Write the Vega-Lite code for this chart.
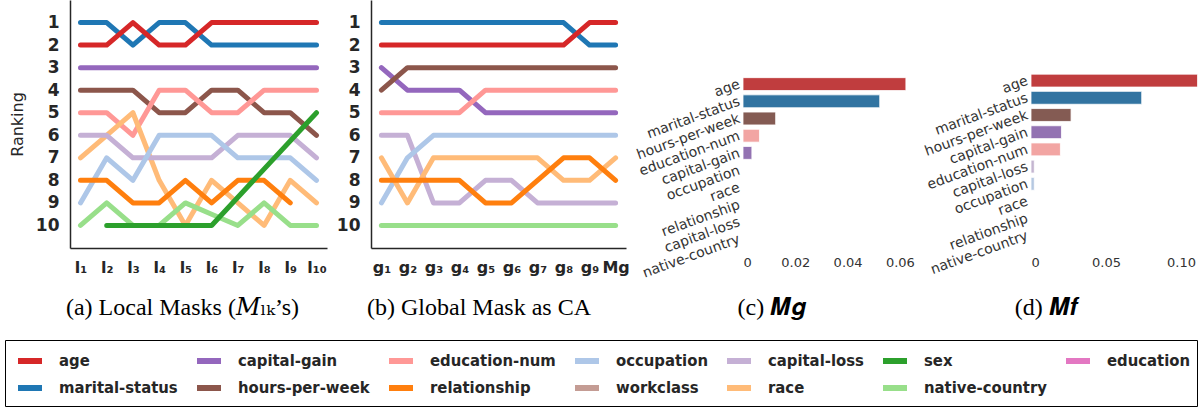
{
  "$schema": "https://vega.github.io/schema/vega-lite/v6.json",
  "padding": {"left": 4, "top": 0, "right": 0, "bottom": 0},
  "background": "white",
  "config": {
    "view": {"stroke": null},
    "axis": {"grid": false, "ticks": false, "domainColor": "#262626", "domainWidth": 1.5, "labelColor": "#262626"},
    "legend": {"orient": "none", "legendX": -65, "legendY": 340}
  },
  "datasets": {
    "local": [
      {"f": "marital-status", "s": "l₁", "r": 1}, {"f": "marital-status", "s": "l₂", "r": 1}, {"f": "marital-status", "s": "l₃", "r": 2}, {"f": "marital-status", "s": "l₄", "r": 1}, {"f": "marital-status", "s": "l₅", "r": 1}, {"f": "marital-status", "s": "l₆", "r": 2}, {"f": "marital-status", "s": "l₇", "r": 2}, {"f": "marital-status", "s": "l₈", "r": 2}, {"f": "marital-status", "s": "l₉", "r": 2}, {"f": "marital-status", "s": "l₁₀", "r": 2},
      {"f": "age", "s": "l₁", "r": 2}, {"f": "age", "s": "l₂", "r": 2}, {"f": "age", "s": "l₃", "r": 1}, {"f": "age", "s": "l₄", "r": 2}, {"f": "age", "s": "l₅", "r": 2}, {"f": "age", "s": "l₆", "r": 1}, {"f": "age", "s": "l₇", "r": 1}, {"f": "age", "s": "l₈", "r": 1}, {"f": "age", "s": "l₉", "r": 1}, {"f": "age", "s": "l₁₀", "r": 1},
      {"f": "capital-gain", "s": "l₁", "r": 3}, {"f": "capital-gain", "s": "l₂", "r": 3}, {"f": "capital-gain", "s": "l₃", "r": 3}, {"f": "capital-gain", "s": "l₄", "r": 3}, {"f": "capital-gain", "s": "l₅", "r": 3}, {"f": "capital-gain", "s": "l₆", "r": 3}, {"f": "capital-gain", "s": "l₇", "r": 3}, {"f": "capital-gain", "s": "l₈", "r": 3}, {"f": "capital-gain", "s": "l₉", "r": 3}, {"f": "capital-gain", "s": "l₁₀", "r": 3},
      {"f": "hours-per-week", "s": "l₁", "r": 4}, {"f": "hours-per-week", "s": "l₂", "r": 4}, {"f": "hours-per-week", "s": "l₃", "r": 4}, {"f": "hours-per-week", "s": "l₄", "r": 5}, {"f": "hours-per-week", "s": "l₅", "r": 5}, {"f": "hours-per-week", "s": "l₆", "r": 4}, {"f": "hours-per-week", "s": "l₇", "r": 4}, {"f": "hours-per-week", "s": "l₈", "r": 5}, {"f": "hours-per-week", "s": "l₉", "r": 5}, {"f": "hours-per-week", "s": "l₁₀", "r": 6},
      {"f": "education-num", "s": "l₁", "r": 5}, {"f": "education-num", "s": "l₂", "r": 5}, {"f": "education-num", "s": "l₃", "r": 6}, {"f": "education-num", "s": "l₄", "r": 4}, {"f": "education-num", "s": "l₅", "r": 4}, {"f": "education-num", "s": "l₆", "r": 5}, {"f": "education-num", "s": "l₇", "r": 5}, {"f": "education-num", "s": "l₈", "r": 4}, {"f": "education-num", "s": "l₉", "r": 4}, {"f": "education-num", "s": "l₁₀", "r": 4},
      {"f": "race", "s": "l₁", "r": 7}, {"f": "race", "s": "l₂", "r": 6}, {"f": "race", "s": "l₃", "r": 5}, {"f": "race", "s": "l₄", "r": 8}, {"f": "race", "s": "l₅", "r": 10}, {"f": "race", "s": "l₆", "r": 8}, {"f": "race", "s": "l₇", "r": 9}, {"f": "race", "s": "l₈", "r": 10}, {"f": "race", "s": "l₉", "r": 8}, {"f": "race", "s": "l₁₀", "r": 9},
      {"f": "capital-loss", "s": "l₁", "r": 6}, {"f": "capital-loss", "s": "l₂", "r": 6}, {"f": "capital-loss", "s": "l₃", "r": 7}, {"f": "capital-loss", "s": "l₄", "r": 7}, {"f": "capital-loss", "s": "l₅", "r": 7}, {"f": "capital-loss", "s": "l₆", "r": 7}, {"f": "capital-loss", "s": "l₇", "r": 6}, {"f": "capital-loss", "s": "l₈", "r": 6}, {"f": "capital-loss", "s": "l₉", "r": 6}, {"f": "capital-loss", "s": "l₁₀", "r": 7},
      {"f": "occupation", "s": "l₁", "r": 9}, {"f": "occupation", "s": "l₂", "r": 7}, {"f": "occupation", "s": "l₃", "r": 8}, {"f": "occupation", "s": "l₄", "r": 6}, {"f": "occupation", "s": "l₅", "r": 6}, {"f": "occupation", "s": "l₆", "r": 6}, {"f": "occupation", "s": "l₇", "r": 7}, {"f": "occupation", "s": "l₈", "r": 7}, {"f": "occupation", "s": "l₉", "r": 7}, {"f": "occupation", "s": "l₁₀", "r": 8},
      {"f": "relationship", "s": "l₁", "r": 8}, {"f": "relationship", "s": "l₂", "r": 8}, {"f": "relationship", "s": "l₃", "r": 9}, {"f": "relationship", "s": "l₄", "r": 9}, {"f": "relationship", "s": "l₅", "r": 8}, {"f": "relationship", "s": "l₆", "r": 9}, {"f": "relationship", "s": "l₇", "r": 8}, {"f": "relationship", "s": "l₈", "r": 8}, {"f": "relationship", "s": "l₉", "r": 9},
      {"f": "native-country", "s": "l₁", "r": 10}, {"f": "native-country", "s": "l₂", "r": 9}, {"f": "native-country", "s": "l₃", "r": 10}, {"f": "native-country", "s": "l₄", "r": 10}, {"f": "native-country", "s": "l₅", "r": 9}, {"f": "native-country", "s": "l₆", "r": 9.5}, {"f": "native-country", "s": "l₇", "r": 10}, {"f": "native-country", "s": "l₈", "r": 9}, {"f": "native-country", "s": "l₉", "r": 10}, {"f": "native-country", "s": "l₁₀", "r": 10},
      {"f": "sex", "s": "l₂", "r": 10}, {"f": "sex", "s": "l₃", "r": 10}, {"f": "sex", "s": "l₄", "r": 10}, {"f": "sex", "s": "l₅", "r": 10}, {"f": "sex", "s": "l₆", "r": 10}, {"f": "sex", "s": "l₁₀", "r": 5}
    ],
    "global": [
      {"f": "marital-status", "s": "g₁", "r": 1}, {"f": "marital-status", "s": "g₂", "r": 1}, {"f": "marital-status", "s": "g₃", "r": 1}, {"f": "marital-status", "s": "g₄", "r": 1}, {"f": "marital-status", "s": "g₅", "r": 1}, {"f": "marital-status", "s": "g₆", "r": 1}, {"f": "marital-status", "s": "g₇", "r": 1}, {"f": "marital-status", "s": "g₈", "r": 1}, {"f": "marital-status", "s": "g₉", "r": 2}, {"f": "marital-status", "s": "Mg", "r": 2},
      {"f": "age", "s": "g₁", "r": 2}, {"f": "age", "s": "g₂", "r": 2}, {"f": "age", "s": "g₃", "r": 2}, {"f": "age", "s": "g₄", "r": 2}, {"f": "age", "s": "g₅", "r": 2}, {"f": "age", "s": "g₆", "r": 2}, {"f": "age", "s": "g₇", "r": 2}, {"f": "age", "s": "g₈", "r": 2}, {"f": "age", "s": "g₉", "r": 1}, {"f": "age", "s": "Mg", "r": 1},
      {"f": "capital-gain", "s": "g₁", "r": 3}, {"f": "capital-gain", "s": "g₂", "r": 4}, {"f": "capital-gain", "s": "g₃", "r": 4}, {"f": "capital-gain", "s": "g₄", "r": 4}, {"f": "capital-gain", "s": "g₅", "r": 5}, {"f": "capital-gain", "s": "g₆", "r": 5}, {"f": "capital-gain", "s": "g₇", "r": 5}, {"f": "capital-gain", "s": "g₈", "r": 5}, {"f": "capital-gain", "s": "g₉", "r": 5}, {"f": "capital-gain", "s": "Mg", "r": 5},
      {"f": "hours-per-week", "s": "g₁", "r": 4}, {"f": "hours-per-week", "s": "g₂", "r": 3}, {"f": "hours-per-week", "s": "g₃", "r": 3}, {"f": "hours-per-week", "s": "g₄", "r": 3}, {"f": "hours-per-week", "s": "g₅", "r": 3}, {"f": "hours-per-week", "s": "g₆", "r": 3}, {"f": "hours-per-week", "s": "g₇", "r": 3}, {"f": "hours-per-week", "s": "g₈", "r": 3}, {"f": "hours-per-week", "s": "g₉", "r": 3}, {"f": "hours-per-week", "s": "Mg", "r": 3},
      {"f": "education-num", "s": "g₁", "r": 5}, {"f": "education-num", "s": "g₂", "r": 5}, {"f": "education-num", "s": "g₃", "r": 5}, {"f": "education-num", "s": "g₄", "r": 5}, {"f": "education-num", "s": "g₅", "r": 4}, {"f": "education-num", "s": "g₆", "r": 4}, {"f": "education-num", "s": "g₇", "r": 4}, {"f": "education-num", "s": "g₈", "r": 4}, {"f": "education-num", "s": "g₉", "r": 4}, {"f": "education-num", "s": "Mg", "r": 4},
      {"f": "capital-loss", "s": "g₁", "r": 6}, {"f": "capital-loss", "s": "g₂", "r": 6}, {"f": "capital-loss", "s": "g₃", "r": 9}, {"f": "capital-loss", "s": "g₄", "r": 9}, {"f": "capital-loss", "s": "g₅", "r": 8}, {"f": "capital-loss", "s": "g₆", "r": 8}, {"f": "capital-loss", "s": "g₇", "r": 9}, {"f": "capital-loss", "s": "g₈", "r": 9}, {"f": "capital-loss", "s": "g₉", "r": 9}, {"f": "capital-loss", "s": "Mg", "r": 9},
      {"f": "occupation", "s": "g₁", "r": 9}, {"f": "occupation", "s": "g₂", "r": 7}, {"f": "occupation", "s": "g₃", "r": 6}, {"f": "occupation", "s": "g₄", "r": 6}, {"f": "occupation", "s": "g₅", "r": 6}, {"f": "occupation", "s": "g₆", "r": 6}, {"f": "occupation", "s": "g₇", "r": 6}, {"f": "occupation", "s": "g₈", "r": 6}, {"f": "occupation", "s": "g₉", "r": 6}, {"f": "occupation", "s": "Mg", "r": 6},
      {"f": "race", "s": "g₁", "r": 7}, {"f": "race", "s": "g₂", "r": 9}, {"f": "race", "s": "g₃", "r": 7}, {"f": "race", "s": "g₄", "r": 7}, {"f": "race", "s": "g₅", "r": 7}, {"f": "race", "s": "g₆", "r": 7}, {"f": "race", "s": "g₇", "r": 7}, {"f": "race", "s": "g₈", "r": 8}, {"f": "race", "s": "g₉", "r": 8}, {"f": "race", "s": "Mg", "r": 7},
      {"f": "relationship", "s": "g₁", "r": 8}, {"f": "relationship", "s": "g₂", "r": 8}, {"f": "relationship", "s": "g₃", "r": 8}, {"f": "relationship", "s": "g₄", "r": 8}, {"f": "relationship", "s": "g₅", "r": 9}, {"f": "relationship", "s": "g₆", "r": 9}, {"f": "relationship", "s": "g₇", "r": 8}, {"f": "relationship", "s": "g₈", "r": 7}, {"f": "relationship", "s": "g₉", "r": 7}, {"f": "relationship", "s": "Mg", "r": 8},
      {"f": "native-country", "s": "g₁", "r": 10}, {"f": "native-country", "s": "g₂", "r": 10}, {"f": "native-country", "s": "g₃", "r": 10}, {"f": "native-country", "s": "g₄", "r": 10}, {"f": "native-country", "s": "g₅", "r": 10}, {"f": "native-country", "s": "g₆", "r": 10}, {"f": "native-country", "s": "g₇", "r": 10}, {"f": "native-country", "s": "g₈", "r": 10}, {"f": "native-country", "s": "g₉", "r": 10}, {"f": "native-country", "s": "Mg", "r": 10}
    ],
    "mg": [
      {"f": "age", "v": 0.0623}, {"f": "marital-status", "v": 0.0523}, {"f": "hours-per-week", "v": 0.0125}, {"f": "education-num", "v": 0.0063}, {"f": "capital-gain", "v": 0.0034},
      {"f": "occupation", "v": 0}, {"f": "race", "v": 0}, {"f": "relationship", "v": 0}, {"f": "capital-loss", "v": 0}, {"f": "native-country", "v": 0}
    ],
    "mf": [
      {"f": "age", "v": 0.111}, {"f": "marital-status", "v": 0.0738}, {"f": "hours-per-week", "v": 0.0267}, {"f": "capital-gain", "v": 0.0203}, {"f": "education-num", "v": 0.0196},
      {"f": "capital-loss", "v": 0.0022}, {"f": "occupation", "v": 0.0022}, {"f": "race", "v": 0}, {"f": "relationship", "v": 0}, {"f": "native-country", "v": 0}
    ]
  },
  "bounds": "flush",
  "spacing": 44,
  "hconcat": [
    {
      "width": 257, "height": 248,
      "data": {"name": "local"},
      "mark": {"type": "line", "strokeWidth": 5, "strokeCap": "round", "strokeJoin": "round"},
      "encoding": {
        "x": {"field": "s", "type": "ordinal", "sort": null,
          "scale": {"type": "point", "domain": ["l₁","l₂","l₃","l₄","l₅","l₆","l₇","l₈","l₉","l₁₀"], "padding": 0.4},
          "axis": {"labelAngle": 0, "labelFont": "DejaVu Sans", "labelFontWeight": "bold", "labelFontSize": 16, "labelPadding": 11,
            "title": "(a) Local Masks (𝑀ₗₖ’s)", "titleFont": "Liberation Serif, DejaVu Serif", "titleFontSize": 24, "titleFontWeight": "normal", "titleColor": "black",
            "titleX": 112, "titleY": 66, "titleBaseline": "alphabetic", "titleAlign": "center"}},
        "y": {"field": "r", "type": "quantitative",
          "scale": {"domain": [0, 11], "reverse": true, "zero": false, "nice": false},
          "axis": {"values": [1,2,3,4,5,6,7,8,9,10], "labelFont": "DejaVu Sans", "labelFontWeight": "bold", "labelFontSize": 17, "labelPadding": 11,
            "title": "Ranking", "titleFont": "DejaVu Sans", "titleFontSize": 16, "titleFontWeight": "normal", "titleColor": "#262626", "titlePadding": 10}},
        "color": {"field": "f", "type": "nominal",
          "scale": {"domain": ["age","capital-gain","education-num","occupation","capital-loss","sex","education","marital-status","hours-per-week","relationship","workclass","race","native-country"],
                    "range": ["#d62728","#9467bd","#ff9896","#aec7e8","#c5b0d5","#2ca02c","#e377c2","#1f77b4","#8c564b","#ff7f0e","#c49c94","#ffbb78","#98df8a"]},
          "legend": {"title": null, "columns": 7, "direction": "horizontal", "symbolType": "stroke", "symbolSize": 576, "symbolStrokeWidth": 6, "symbolOffset": 4,
            "labelFont": "DejaVu Sans Condensed, DejaVu Sans", "labelFontWeight": "bold", "labelFontSize": 16.5, "labelColor": "#262626", "labelOffset": 14, "labelLimit": 300,
            "columnPadding": 7, "rowPadding": 0, "padding": 6, "strokeColor": "black", "fillColor": "white", "cornerRadius": 0}}
      }
    },
    {
      "width": 255, "height": 248,
      "data": {"name": "global"},
      "mark": {"type": "line", "strokeWidth": 5, "strokeCap": "round", "strokeJoin": "round"},
      "encoding": {
        "x": {"field": "s", "type": "ordinal", "sort": null,
          "scale": {"type": "point", "domain": ["g₁","g₂","g₃","g₄","g₅","g₆","g₇","g₈","g₉","Mg"], "padding": 0.4},
          "axis": {"labelAngle": 0, "labelFont": "DejaVu Sans", "labelFontWeight": "bold", "labelFontSize": 16, "labelPadding": 11,
            "title": "(b) Global Mask as CA", "titleFont": "Liberation Serif, DejaVu Serif", "titleFontSize": 24, "titleFontWeight": "normal", "titleColor": "black",
            "titleX": 107.5, "titleY": 66, "titleBaseline": "alphabetic", "titleAlign": "center"}},
        "y": {"field": "r", "type": "quantitative",
          "scale": {"domain": [0, 11], "reverse": true, "zero": false, "nice": false},
          "axis": {"values": [1,2,3,4,5,6,7,8,9,10], "labelFont": "DejaVu Sans", "labelFontWeight": "bold", "labelFontSize": 17, "labelPadding": 11, "title": null}},
        "color": {"field": "f", "type": "nominal"}
      }
    },
    {
      "width": 28.7, "height": 248,
      "data": {"values": []},
      "mark": {"type": "point", "opacity": 0},
      "encoding": {}
    },
    {
      "width": 171, "height": 248,
      "data": {"name": "mg"},
      "mark": {"type": "bar", "stroke": "white", "strokeWidth": 0.8},
      "encoding": {
        "y": {"field": "f", "type": "nominal", "sort": null,
          "scale": {"domain": ["age","marital-status","hours-per-week","education-num","capital-gain","occupation","race","relationship","capital-loss","native-country"], "range": [75.5, 247.5], "paddingInner": 0.25, "paddingOuter": 0.125},
          "axis": {"title": null, "domain": false, "labelAngle": -20, "labelAlign": "right", "labelBaseline": "middle", "labelFont": "DejaVu Sans", "labelFontSize": 14, "labelColor": "#333333", "labelPadding": 4, "labelLimit": 300}},
        "x": {"field": "v", "type": "quantitative",
          "scale": {"domain": [0, 0.0654], "nice": false, "zero": true},
          "axis": {"values": [0, 0.02, 0.04, 0.06], "labelExpr": "datum.value === 0 ? '0' : format(datum.value, '.2f')", "domain": false, "labelFont": "DejaVu Sans", "labelFontSize": 13, "labelColor": "#333333", "labelPadding": 8,
            "title": "(c) 𝑴𝒈", "titleFont": "Liberation Serif, DejaVu Serif", "titleFontSize": 24, "titleFontWeight": "normal", "titleColor": "black",
            "titleX": 28.3, "titleY": 66, "titleBaseline": "alphabetic", "titleAlign": "center"}},
        "fill": {"field": "f", "type": "nominal", "legend": null,
          "scale": {"domain": ["age","marital-status","hours-per-week","education-num","capital-gain","occupation","race","relationship","capital-loss","native-country"],
                    "range": ["#c03d3e","#3274a1","#845b53","#f2a5a3","#9372b2","#b5c8e1","#f5c08f","#e8883a","#c4b5d0","#a2d895"]}}
      }
    },
    {
      "width": 28.6, "height": 248,
      "data": {"values": []},
      "mark": {"type": "point", "opacity": 0},
      "encoding": {}
    },
    {
      "width": 170, "height": 248,
      "data": {"name": "mf"},
      "mark": {"type": "bar", "stroke": "white", "strokeWidth": 0.8},
      "encoding": {
        "y": {"field": "f", "type": "nominal", "sort": null,
          "scale": {"domain": ["age","marital-status","hours-per-week","capital-gain","education-num","capital-loss","occupation","race","relationship","native-country"], "range": [72, 244], "paddingInner": 0.25, "paddingOuter": 0.125},
          "axis": {"title": null, "domain": false, "labelAngle": -20, "labelAlign": "right", "labelBaseline": "middle", "labelFont": "DejaVu Sans", "labelFontSize": 14, "labelColor": "#333333", "labelPadding": 4, "labelLimit": 300}},
        "x": {"field": "v", "type": "quantitative",
          "scale": {"domain": [0, 0.1133], "nice": false, "zero": true},
          "axis": {"values": [0, 0.05, 0.1], "labelExpr": "datum.value === 0 ? '0' : format(datum.value, '.2f')", "domain": false, "labelFont": "DejaVu Sans", "labelFontSize": 13, "labelColor": "#333333", "labelPadding": 8,
            "title": "(d) 𝑴𝒇", "titleFont": "Liberation Serif, DejaVu Serif", "titleFontSize": 24, "titleFontWeight": "normal", "titleColor": "black",
            "titleX": 14.7, "titleY": 66, "titleBaseline": "alphabetic", "titleAlign": "center"}},
        "fill": {"field": "f", "type": "nominal", "legend": null}
      }
    }
  ]
}
